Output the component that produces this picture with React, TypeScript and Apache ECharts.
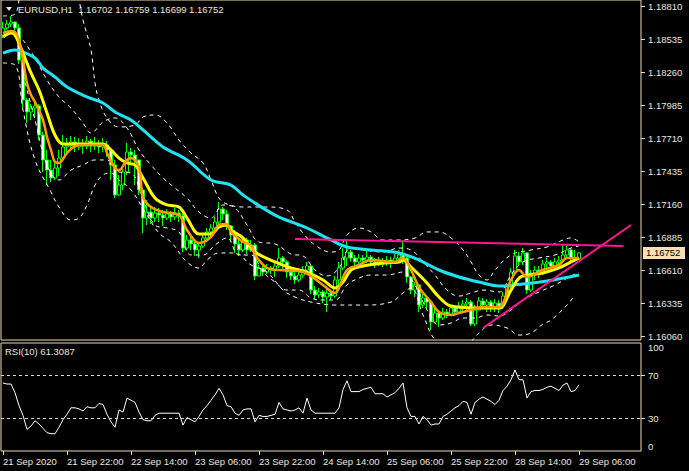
import React, { useEffect, useRef } from 'react';
import * as echarts from 'echarts';

const symbolTitle = 'EURUSD,H1\u00a0\u00a01.16702 1.16759 1.16699 1.16752';
const rsiTitle = 'RSI(10) 61.3087';
const lastPrice = 1.16752;
const slotCount = 160;
const labelEvery = 16;
const timeLabels = ['21 Sep 2020', '21 Sep 22:00', '22 Sep 14:00', '23 Sep 06:00', '23 Sep 22:00', '24 Sep 14:00', '25 Sep 06:00', '25 Sep 22:00', '28 Sep 14:00', '29 Sep 06:00'];
const priceTicks = [1.1881, 1.18535, 1.1826, 1.17985, 1.1771, 1.17435, 1.1716, 1.16885, 1.1661, 1.16335, 1.1606];
const priceMax = 1.1886;
const priceMin = 1.160267;
const rsiLevels = [70, 30];

const opens = [1.18568, 1.18627, 1.1866, 1.18677, 1.18627, 1.1836, 1.18027, 1.17927, 1.1796, 1.17977,
  1.17735, 1.17527, 1.17443, 1.17377, 1.1746, 1.17543, 1.17635, 1.17652, 1.17677, 1.17635,
  1.1766, 1.17643, 1.17685, 1.17643, 1.17668, 1.17635, 1.17652, 1.1761, 1.17485, 1.17235,
  1.17318, 1.17427, 1.17593, 1.17568, 1.17527, 1.17277, 1.17043, 1.17093, 1.17043, 1.17085,
  1.17068, 1.17043, 1.17077, 1.17052, 1.17085, 1.1706, 1.16793, 1.1686, 1.16827, 1.16777,
  1.1681, 1.16877, 1.16927, 1.1696, 1.1701, 1.17118, 1.17077, 1.16977, 1.16902, 1.16827,
  1.16777, 1.1686, 1.16777, 1.16818, 1.1656, 1.16627, 1.16593, 1.16627, 1.1661, 1.16643,
  1.1671, 1.16677, 1.16593, 1.1656, 1.16527, 1.16568, 1.1661, 1.16643, 1.16443, 1.16402,
  1.16427, 1.16385, 1.16418, 1.16393, 1.16527, 1.16627, 1.1671, 1.1676, 1.1671, 1.16677,
  1.1671, 1.16693, 1.16718, 1.16677, 1.16652, 1.16685, 1.1666, 1.16693, 1.16668, 1.1671,
  1.16735, 1.1671, 1.16552, 1.16443, 1.16485, 1.16318, 1.16377, 1.16343, 1.16177, 1.16252,
  1.1621, 1.1626, 1.16243, 1.16293, 1.1626, 1.1631, 1.16327, 1.16343, 1.1616, 1.16277,
  1.16352, 1.16318, 1.16343, 1.16293, 1.16335, 1.1631, 1.16393, 1.16477, 1.16593, 1.16727,
  1.16677, 1.16752, 1.16443, 1.16568, 1.1661, 1.16593, 1.1666, 1.16677, 1.16643, 1.16677,
  1.16693, 1.16735, 1.16777, 1.1671, 1.16702];

const closes = [1.18627, 1.1866, 1.18677, 1.18627, 1.1836, 1.18027, 1.17927, 1.1796, 1.17977, 1.17735,
  1.17527, 1.17443, 1.17377, 1.1746, 1.17543, 1.17635, 1.17652, 1.17677, 1.17635, 1.1766,
  1.17643, 1.17685, 1.17643, 1.17668, 1.17635, 1.17652, 1.1761, 1.17485, 1.17235, 1.17318,
  1.17427, 1.17593, 1.17568, 1.17527, 1.17277, 1.17043, 1.17093, 1.17043, 1.17085, 1.17068,
  1.17043, 1.17077, 1.17052, 1.17085, 1.1706, 1.16793, 1.1686, 1.16827, 1.16777, 1.1681,
  1.16877, 1.16927, 1.1696, 1.1701, 1.17118, 1.17077, 1.16977, 1.16902, 1.16827, 1.16777,
  1.1686, 1.16777, 1.16818, 1.1656, 1.16627, 1.16593, 1.16627, 1.1661, 1.16643, 1.1671,
  1.16677, 1.16593, 1.1656, 1.16527, 1.16568, 1.1661, 1.16643, 1.16443, 1.16402, 1.16427,
  1.16385, 1.16418, 1.16393, 1.16527, 1.16627, 1.1671, 1.1676, 1.1671, 1.16677, 1.1671,
  1.16693, 1.16718, 1.16677, 1.16652, 1.16685, 1.1666, 1.16693, 1.16668, 1.1671, 1.16735,
  1.1671, 1.16552, 1.16443, 1.16485, 1.16318, 1.16377, 1.16343, 1.16177, 1.16252, 1.1621,
  1.1626, 1.16243, 1.16293, 1.1626, 1.1631, 1.16327, 1.16343, 1.1616, 1.16277, 1.16352,
  1.16318, 1.16343, 1.16293, 1.16335, 1.1631, 1.16393, 1.16477, 1.16593, 1.16727, 1.16677,
  1.16752, 1.16443, 1.16568, 1.1661, 1.16593, 1.1666, 1.16677, 1.16643, 1.16677, 1.16693,
  1.16735, 1.16777, 1.1671, 1.16702, 1.16752];

const highs = [1.18677, 1.18693, 1.18727, 1.18677, 1.1866, 1.1836, 1.18043, 1.17993, 1.18027, 1.17993,
  1.1776, 1.1761, 1.17527, 1.17527, 1.1761, 1.17735, 1.1771, 1.17727, 1.17718, 1.1771,
  1.17702, 1.17727, 1.17702, 1.17718, 1.17693, 1.1771, 1.17685, 1.17627, 1.17527, 1.17402,
  1.17485, 1.17668, 1.17627, 1.1761, 1.17527, 1.17293, 1.17193, 1.17127, 1.17135, 1.17127,
  1.1711, 1.17118, 1.17102, 1.17127, 1.1711, 1.17077, 1.16902, 1.16893, 1.1686, 1.16843,
  1.1691, 1.1696, 1.16993, 1.17052, 1.17177, 1.17135, 1.1711, 1.16985, 1.16943, 1.1686,
  1.16893, 1.16877, 1.1686, 1.16835, 1.16652, 1.16643, 1.1666, 1.16643, 1.16677, 1.16793,
  1.16727, 1.16693, 1.16627, 1.16593, 1.1661, 1.16643, 1.16677, 1.1666, 1.16477, 1.1646,
  1.16443, 1.16477, 1.16443, 1.1656, 1.16677, 1.16793, 1.1686, 1.16777, 1.16735, 1.16743,
  1.16735, 1.16777, 1.16735, 1.1671, 1.16718, 1.1671, 1.16727, 1.16718, 1.16743, 1.16777,
  1.16843, 1.16727, 1.1656, 1.1651, 1.16493, 1.1641, 1.16393, 1.1636, 1.16293, 1.16277,
  1.16293, 1.16285, 1.16327, 1.1631, 1.16343, 1.1636, 1.16377, 1.1636, 1.16318, 1.16385,
  1.16377, 1.16368, 1.1636, 1.16368, 1.1636, 1.16427, 1.16502, 1.16627, 1.16777, 1.1676,
  1.16793, 1.1676, 1.1661, 1.16643, 1.16643, 1.16693, 1.1671, 1.16693, 1.1671, 1.16727,
  1.16827, 1.16818, 1.16793, 1.16777, 1.16759];

const lows = [1.18543, 1.1861, 1.18635, 1.18593, 1.18327, 1.1796, 1.17835, 1.1786, 1.17877, 1.17693,
  1.17427, 1.17318, 1.17343, 1.1736, 1.17393, 1.17527, 1.17593, 1.1761, 1.17593, 1.1761,
  1.17577, 1.17618, 1.17593, 1.1761, 1.17585, 1.17593, 1.17552, 1.1736, 1.1721, 1.17227,
  1.17277, 1.17402, 1.1751, 1.17318, 1.17235, 1.16918, 1.16985, 1.16993, 1.1701, 1.1701,
  1.16977, 1.17027, 1.1701, 1.17027, 1.1701, 1.1676, 1.16777, 1.16777, 1.16727, 1.1671,
  1.16793, 1.16843, 1.16893, 1.16943, 1.16985, 1.17027, 1.16943, 1.16843, 1.16752, 1.16727,
  1.1676, 1.16743, 1.1676, 1.16527, 1.1656, 1.1656, 1.16577, 1.16577, 1.16552, 1.16627,
  1.16602, 1.16543, 1.16527, 1.16493, 1.1651, 1.16543, 1.16577, 1.1641, 1.16368, 1.16377,
  1.16335, 1.1626, 1.1636, 1.16377, 1.16477, 1.1661, 1.16643, 1.16677, 1.16643, 1.1666,
  1.1666, 1.16668, 1.16652, 1.16627, 1.16643, 1.16635, 1.16643, 1.16627, 1.1666, 1.16677,
  1.1666, 1.16502, 1.1641, 1.16385, 1.1626, 1.16293, 1.16293, 1.1611, 1.16177, 1.16135,
  1.16193, 1.1621, 1.16227, 1.16227, 1.16243, 1.1626, 1.16277, 1.16143, 1.16143, 1.16277,
  1.16285, 1.1626, 1.1626, 1.1626, 1.16252, 1.16285, 1.16377, 1.1646, 1.16593, 1.16643,
  1.16652, 1.1641, 1.16427, 1.16527, 1.16543, 1.16568, 1.1661, 1.1661, 1.16627, 1.16643,
  1.16677, 1.1671, 1.16677, 1.16677, 1.16699];

const yellowMA = [[0, 1.18552], [2, 1.18585], [3, 1.18568], [5, 1.18418], [7, 1.18252], [9, 1.1811], [11, 1.17918], [13, 1.17735], [15, 1.1766], [25, 1.1766], [27, 1.1761], [29, 1.17543], [31, 1.17502], [33, 1.17485], [35, 1.17377], [38, 1.1721], [41, 1.17152], [44, 1.17135], [46, 1.17043], [49, 1.1691], [52, 1.1691], [54, 1.16968], [56, 1.16985], [57, 1.16943], [60, 1.16877], [63, 1.1676], [68, 1.16677], [72, 1.16627], [76, 1.16593], [80, 1.16527], [83, 1.1646], [85, 1.1651], [87, 1.1661], [90, 1.16643], [95, 1.16668], [99, 1.16677], [100, 1.16693], [102, 1.16635], [106, 1.16502], [109, 1.16385], [112, 1.1631], [120, 1.16293], [124, 1.16293], [127, 1.16443], [129, 1.16543], [131, 1.16568], [135, 1.16585], [139, 1.16627], [142, 1.16677], [144, 1.1671]];

const orangeMA = [[0, 1.18585], [2, 1.18602], [3, 1.18593], [4, 1.18527], [5, 1.1836], [6, 1.18168], [7, 1.18068], [8, 1.1801], [10, 1.1786], [11, 1.17718], [12, 1.1761], [13, 1.1751], [14, 1.17502], [16, 1.17585], [18, 1.17643], [20, 1.17652], [25, 1.17652], [26, 1.17585], [28, 1.1746], [29, 1.17443], [31, 1.17527], [32, 1.17543], [34, 1.17468], [35, 1.17218], [37, 1.17135], [40, 1.17093], [44, 1.17068], [46, 1.16943], [49, 1.16835], [52, 1.16885], [54, 1.16985], [56, 1.16993], [57, 1.16927], [60, 1.16843], [62, 1.16818], [63, 1.16735], [66, 1.16627], [69, 1.1661], [75, 1.16593], [80, 1.16485], [83, 1.16418], [84, 1.1646], [86, 1.1661], [89, 1.16652], [92, 1.16693], [98, 1.16677], [100, 1.1671], [102, 1.1661], [104, 1.16468], [107, 1.16343], [109, 1.1626], [112, 1.16235], [114, 1.16252], [117, 1.16277], [120, 1.16302], [124, 1.16302], [127, 1.16527], [129, 1.1661], [131, 1.16552], [135, 1.1661], [139, 1.16652], [141, 1.1671], [144, 1.1671]];

const cyanMA = [[0, 1.18418], [3, 1.18443], [5, 1.18427], [8, 1.18377], [10, 1.18293], [13, 1.18218], [16, 1.18135], [21, 1.18052], [25, 1.18002], [28, 1.17927], [32, 1.1786], [35, 1.17777], [40, 1.17635], [46, 1.17527], [52, 1.1736], [57, 1.17318], [60, 1.17235], [68, 1.17068], [76, 1.1696], [82, 1.1686], [86, 1.16802], [92, 1.16777], [99, 1.16752], [104, 1.16693], [109, 1.1661], [114, 1.16552], [119, 1.1651], [124, 1.16477], [130, 1.16493], [136, 1.16518], [144, 1.16568]];

const bandOuterUpper = [[0, 1.18727], [3, 1.18743], [5, 1.1911], [10, 1.19443], [16, 1.19277], [19, 1.1886], [20, 1.18693], [22, 1.18443], [23, 1.18168], [24, 1.18027], [26, 1.17877], [29, 1.17802], [33, 1.17818], [35, 1.17885], [38, 1.17902], [41, 1.17835], [44, 1.17693], [47, 1.17585], [50, 1.17502], [52, 1.1736], [54, 1.1721], [56, 1.1716], [60, 1.17135], [66, 1.17135], [71, 1.1711], [73, 1.1701], [75, 1.16918], [78, 1.16818], [82, 1.1676], [84, 1.16777], [86, 1.16902], [89, 1.1696], [92, 1.16927], [95, 1.1686], [99, 1.1686], [103, 1.16877], [106, 1.16927], [109, 1.16927], [112, 1.16877], [115, 1.16777], [117, 1.16677], [119, 1.16568], [121, 1.16527], [123, 1.1661], [127, 1.16735], [132, 1.16777], [136, 1.16802], [140, 1.1686], [142, 1.16877], [144, 1.16843]];

const bandInnerUpper = [[5, 1.18527], [8, 1.18377], [11, 1.18193], [14, 1.18052], [17, 1.1796], [20, 1.17835], [22, 1.17752], [25, 1.17843], [28, 1.17877], [31, 1.17793], [34, 1.1761], [37, 1.17485], [40, 1.17377], [43, 1.17293], [46, 1.1721], [49, 1.17093], [52, 1.17043], [55, 1.17152], [58, 1.17127], [61, 1.16985], [64, 1.16843], [68, 1.16827], [72, 1.16743], [75, 1.16727], [78, 1.1661], [81, 1.1656], [84, 1.16627], [87, 1.16793], [90, 1.16777], [95, 1.1676], [99, 1.16793], [102, 1.16777], [105, 1.16677], [108, 1.16568], [111, 1.16443], [114, 1.16393], [117, 1.16418], [120, 1.16443], [124, 1.16427], [127, 1.16568], [130, 1.16677], [134, 1.1671], [138, 1.16735], [142, 1.16793], [144, 1.1681]];

const bandInnerLower = [[5, 1.18235], [8, 1.1786], [11, 1.17485], [14, 1.1736], [17, 1.17443], [20, 1.17485], [23, 1.17527], [26, 1.17527], [29, 1.17427], [32, 1.17418], [35, 1.17193], [38, 1.16985], [41, 1.1696], [44, 1.16927], [47, 1.16735], [50, 1.16735], [53, 1.16818], [56, 1.16877], [59, 1.16735], [62, 1.16735], [65, 1.16593], [68, 1.1651], [71, 1.16443], [74, 1.16443], [77, 1.16377], [80, 1.1636], [83, 1.1636], [86, 1.16485], [89, 1.16543], [92, 1.16568], [96, 1.16568], [100, 1.16593], [103, 1.16485], [106, 1.16277], [109, 1.16152], [112, 1.16168], [115, 1.1621], [118, 1.1621], [121, 1.16235], [124, 1.16227], [127, 1.16277], [130, 1.1636], [134, 1.16427], [138, 1.16485], [142, 1.1656], [144, 1.16593]];

const bandOuterLower = [[0, 1.18335], [3, 1.18318], [5, 1.17943], [8, 1.17527], [12, 1.1726], [14, 1.17135], [17, 1.17027], [19, 1.17043], [21, 1.17152], [23, 1.17318], [25, 1.17402], [27, 1.17418], [29, 1.1736], [32, 1.17277], [36, 1.17068], [39, 1.16918], [42, 1.16843], [46, 1.16677], [49, 1.16627], [51, 1.16693], [54, 1.16752], [58, 1.16752], [62, 1.16652], [66, 1.16593], [70, 1.16443], [73, 1.16385], [77, 1.16343], [83, 1.16318], [90, 1.16318], [97, 1.16343], [100, 1.16418], [102, 1.1646], [105, 1.16235], [108, 1.16027], [112, 1.15943], [116, 1.15985], [119, 1.16085], [122, 1.16152], [126, 1.16127], [129, 1.16068], [132, 1.16085], [135, 1.1616], [137, 1.16193], [141, 1.16318], [143, 1.16402]];

const trendTop = [[73, 1.16868], [155, 1.1681]];
const trendRise = [[120, 1.16127], [157, 1.16985]];

const rsi = [63, 62, 62, 54, 42, 33, 20, 23, 28, 25, 21, 17, 16, 16, 22, 29, 34, 40, 40, 39,
  37, 41, 40, 40, 44, 43, 34, 27, 22, 38, 36, 49, 47, 45, 36, 29, 28, 28, 33, 35,
  35, 35, 35, 35, 35, 24, 31, 29, 27, 32, 38, 42, 47, 52, 58, 52, 42, 41, 35, 33,
  38, 39, 39, 27, 33, 32, 32, 33, 34, 45, 39, 38, 37, 38, 40, 35, 49, 38, 35, 35,
  35, 35, 35, 35, 40, 57, 65, 55, 55, 55, 57, 58, 59, 53, 53, 53, 50, 52, 54, 58,
  63, 40, 32, 32, 25, 32, 29, 24, 25, 25, 32, 34, 37, 40, 42, 46, 45, 34, 45, 48,
  50, 48, 46, 43, 47, 56, 60, 66, 75, 66, 66, 49, 55, 56, 56, 57, 59, 60, 58, 56,
  61, 63, 55, 56, 61.3087];

const FONT = "'Liberation Sans', Arial, sans-serif";
const FRAME = '#EFD9AE';
const TEXT = '#EDE7DA';

export default function App() {
  const ref = useRef<HTMLDivElement>(null);
  useEffect(() => {
    document.body.style.margin = '0';
    document.body.style.background = '#000';
    const chart = echarts.init(ref.current!, undefined, { renderer: 'svg' });
    const slots = Array.from({ length: slotCount }, (_, i) => String(i));
    const candles = closes.map((c, i) => [opens[i], c, lows[i], highs[i]]);
    const showEvery = (index: number) => index % labelEvery === 0;
    const band = (data: number[][]) => ({
      type: 'line', xAxisIndex: 0, yAxisIndex: 0, data, showSymbol: false, smooth: 0.4,
      lineStyle: { color: '#FFFFFF', width: 1, type: [4, 4] }, silent: true, z: 3,
    });
    const maLine = (data: number[][], color: string, width: number, z: number) => ({
      type: 'line', xAxisIndex: 0, yAxisIndex: 0, data, showSymbol: false, smooth: 0.35,
      lineStyle: { color, width }, silent: true, z,
    });
    chart.setOption({
      animation: false,
      backgroundColor: '#000000',
      grid: [
        { left: 1, top: 0, width: 640, height: 340, show: true, borderColor: FRAME, borderWidth: 1, backgroundColor: '#000' },
        { left: 1, top: 343, width: 640, height: 108, show: true, borderColor: FRAME, borderWidth: 1, backgroundColor: '#000' },
      ],
      xAxis: [
        { type: 'category', gridIndex: 0, data: slots, boundaryGap: true, show: false },
        {
          type: 'category', gridIndex: 1, data: slots, boundaryGap: true,
          axisLine: { show: false },
          axisTick: { show: true, interval: (i: number) => showEvery(i), alignWithLabel: true, length: 4, lineStyle: { color: FRAME } },
          axisLabel: {
            interval: (i: number) => showEvery(i), align: 'left', margin: 5, color: TEXT, fontSize: 9.5, fontFamily: FONT,
            formatter: (_v: string, idx: number) => timeLabels[idx / labelEvery] ?? '',
          },
          splitLine: { show: false },
        },
      ],
      yAxis: [
        {
          type: 'value', gridIndex: 0, position: 'right', min: priceMin, max: priceMax,
          splitLine: { show: false }, axisLine: { show: false },
          axisTick: { show: true, length: 4, lineStyle: { color: FRAME }, customValues: priceTicks },
          axisLabel: { customValues: priceTicks, margin: 7, color: TEXT, fontSize: 9.5, fontFamily: FONT, formatter: (v: number) => v.toFixed(5) },
        },
        {
          type: 'value', gridIndex: 1, position: 'right', min: 0, max: 100,
          splitLine: { show: false }, axisLine: { show: false },
          axisTick: { show: true, length: 4, lineStyle: { color: FRAME }, customValues: rsiLevels },
          axisLabel: {
            customValues: [95.5, 70, 30, 4.5], margin: 7, color: TEXT, fontSize: 9.5, fontFamily: FONT,
            formatter: (v: number) => (v > 90 ? '100' : v < 10 ? '0' : String(v)),
          },
        },
      ],
      series: [
        {
          type: 'candlestick', xAxisIndex: 0, yAxisIndex: 0, data: candles, barWidth: 3, z: 2,
          itemStyle: { color: '#000000', color0: '#FFFFFF', borderColor: '#00FF00', borderColor0: '#00FF00', borderWidth: 1 },
        },
        band(bandOuterUpper),
        band(bandInnerUpper),
        band(bandInnerLower),
        band(bandOuterLower),
        maLine(cyanMA, '#1EE3F2', 3, 4),
        maLine(yellowMA, '#FFFF00', 3, 5),
        maLine(orangeMA, '#FF9A00', 2.5, 6),
        { type: 'line', xAxisIndex: 0, yAxisIndex: 0, data: trendTop, showSymbol: false, lineStyle: { color: '#FF1493', width: 2 }, silent: true, z: 7 },
        { type: 'line', xAxisIndex: 0, yAxisIndex: 0, data: trendRise, showSymbol: false, lineStyle: { color: '#FF1493', width: 2 }, silent: true, z: 7 },
        {
          type: 'line', xAxisIndex: 1, yAxisIndex: 1, data: rsi, showSymbol: false,
          lineStyle: { color: '#FFFFFF', width: 1 }, silent: true,
          markLine: {
            silent: true, symbol: 'none', label: { show: false },
            lineStyle: { color: '#D8D8D8', width: 1, type: [3, 3] },
            data: rsiLevels.map((v) => ({ yAxis: v })),
          },
        },
      ],
    });
    const py = chart.convertToPixel({ yAxisIndex: 0 }, lastPrice) as number;
    chart.setOption({
      graphic: [
        { type: 'polygon', shape: { points: [[6, 7], [12, 7], [9, 11]] }, style: { fill: TEXT } },
        { type: 'text', x: 18, y: 9, style: { text: symbolTitle, fill: TEXT, font: `9.5px ${FONT}`, verticalAlign: 'middle' } },
        { type: 'text', x: 5, y: 351, style: { text: rsiTitle, fill: TEXT, font: `9.5px ${FONT}`, verticalAlign: 'middle' } },
        { type: 'rect', shape: { x: 643, y: py - 6, width: 42, height: 12 }, style: { fill: '#F8DFB2' } },
        { type: 'text', x: 646, y: py, style: { text: lastPrice.toFixed(5), fill: '#000', font: `9.5px ${FONT}`, verticalAlign: 'middle' } },
      ],
    });
    return () => chart.dispose();
  }, []);
  return <div ref={ref} style={{ width: 689, height: 471, background: '#000' }} />;
}
